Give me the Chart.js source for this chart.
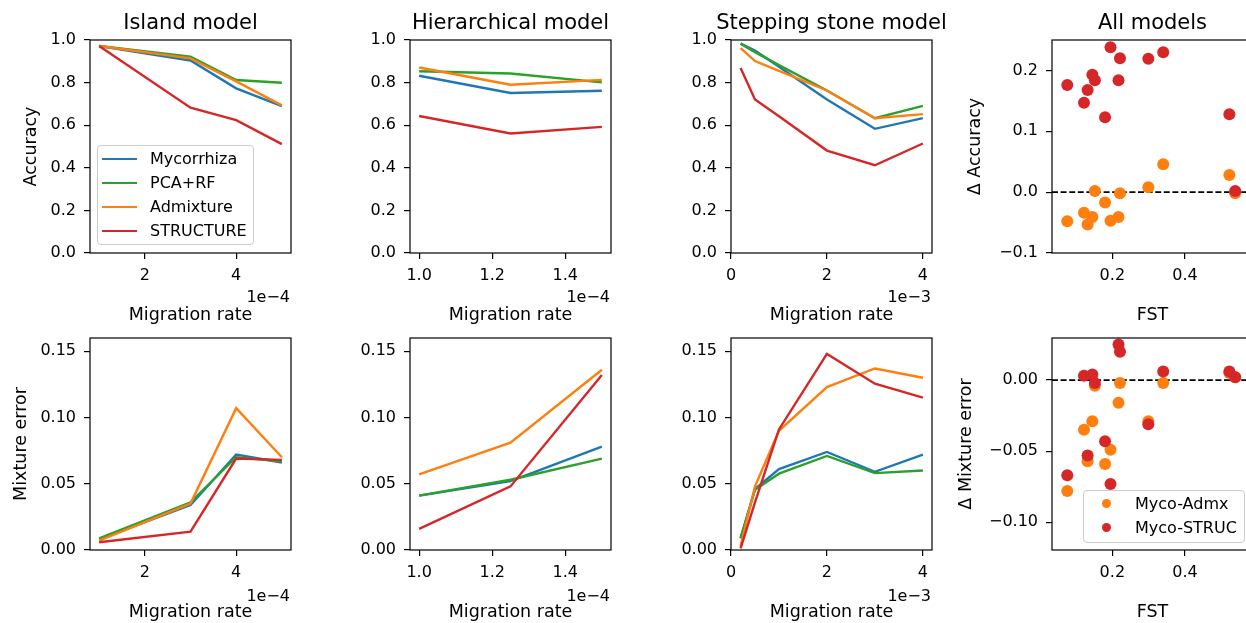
<!DOCTYPE html>
<html>
<head>
<meta charset="utf-8">
<script src="https://cdn.jsdelivr.net/npm/chart.js@4.4.0/dist/chart.umd.min.js"></script>
<style>
  html, body { margin: 0; padding: 0; background: #fff; overflow: hidden; }
  body { width: 1246px; height: 623px; position: relative; font-family: 'DejaVu Sans', sans-serif; color: #000; }
  canvas { position: absolute; }
  .offset { position: absolute; width: 60px; text-align: right; font-size: 16px; line-height: 16px; }
  .legend { position: absolute; box-sizing: border-box; border: 1px solid #cccccc; border-radius: 4px;
            background: rgba(255, 255, 255, 0.8); font-size: 16px; }
  .legend .row { position: absolute; left: 0; height: 20px; line-height: 20px; white-space: nowrap; }
  .legend .mark { position: absolute; }
  .legend .label { position: absolute; top: 0; }
</style>
</head>
<body>
<script>
// ---------------- data ----------------
const seriesNames = ['Mycorrhiza', 'PCA+RF', 'Admixture', 'STRUCTURE'];
const seriesColors = ['#1f77b4', '#2ca02c', '#ff7f0e', '#d62728'];

const islandRates = [1, 3, 4, 5];              // x 1e-4
const hierRates = [1.0, 1.25, 1.5];            // x 1e-4
const steppingRates = [0.2, 0.5, 1, 2, 3, 4];  // x 1e-3

// rows follow seriesNames
const islandAccuracy = [
    [0.972, 0.904, 0.773, 0.690],
    [0.972, 0.922, 0.812, 0.799],
    [0.972, 0.914, 0.806, 0.693],
    [0.972, 0.682, 0.624, 0.511]
];
const hierAccuracy = [
    [0.832, 0.751, 0.762],
    [0.853, 0.843, 0.801],
    [0.871, 0.790, 0.813],
    [0.643, 0.561, 0.592]
];
const steppingAccuracy = [
    [0.983, 0.951, 0.874, 0.721, 0.583, 0.633],
    [0.983, 0.943, 0.882, 0.763, 0.633, 0.691],
    [0.962, 0.901, 0.855, 0.763, 0.633, 0.652],
    [0.868, 0.721, 0.642, 0.481, 0.412, 0.514]
];
const islandMixError = [
    [0.008, 0.034, 0.072, 0.066],
    [0.0088, 0.036, 0.070, 0.067],
    [0.007, 0.035, 0.107, 0.070],
    [0.0058, 0.0139, 0.069, 0.068]
];
const hierMixError = [
    [0.041, 0.052, 0.078],
    [0.041, 0.053, 0.069],
    [0.057, 0.081, 0.136],
    [0.016, 0.048, 0.132]
];
const steppingMixError = [
    [0.009, 0.046, 0.061, 0.074, 0.059, 0.072],
    [0.0088, 0.0455, 0.0576, 0.071, 0.058, 0.060],
    [0.003, 0.048, 0.090, 0.123, 0.137, 0.130],
    [0.0013, 0.036, 0.091, 0.148, 0.1255, 0.115]
];

// All models: differences against FST
const fst = [0.076, 0.122, 0.132, 0.145, 0.152, 0.180, 0.195, 0.217, 0.221, 0.299, 0.340, 0.522, 0.538];
const deltaAccAdmx = [-0.048, -0.034, -0.053, -0.041, 0.002, -0.017, -0.047, -0.041, -0.002, 0.008, 0.046, 0.028, -0.002];
const deltaAccStruc = [0.176, 0.147, 0.168, 0.193, 0.184, 0.123, 0.238, 0.184, 0.220, 0.219, 0.230, 0.128, 0.002];
const deltaMixAdmx = [-0.078, -0.035, -0.057, -0.029, -0.004, -0.059, -0.049, -0.016, -0.002, -0.029, -0.002, 0.005, 0.002];
const deltaMixStruc = [-0.067, 0.003, -0.053, 0.004, -0.002, -0.043, -0.073, 0.025, 0.020, -0.031, 0.006, 0.006, 0.002];
const scatterNames = ['Myco-Admx', 'Myco-STRUC'];
const scatterColors = ['#ff7f0e', '#d62728'];

// tick labels
const islandTicks = [2, 4];
const hierTicks = [1.0, 1.2, 1.4];
const steppingTicks = [0, 2, 4];
const fstTicks = [0.2, 0.4];
const accuracyTicks = [0, 0.2, 0.4, 0.6, 0.8, 1.0];
const mixErrorTicks = [0, 0.05, 0.10, 0.15];
const deltaAccTicks = [-0.1, 0, 0.1, 0.2];
const deltaMixTicks = [-0.10, -0.05, 0];

// ---------------- layout ----------------
Chart.defaults.font.family = "'DejaVu Sans', sans-serif";
Chart.defaults.color = '#000';

const boxLeft = [90, 410, 731, 1052];
const boxW = 201;
const rows = [
    { canvasTop: 0, height: 330, areaTop: 40, areaBottom: 253 },
    { canvasTop: 300, height: 323, areaTop: 38, areaBottom: 250 }
];

function fmt(v, d) {
    return v.toFixed(d).replace('-', '\u2212');
}

// box around the plot + optional dashed zero line; title allowed wider than the box
const framePlugin = {
    id: 'frame',
    afterLayout(chart) {
        const t = chart.titleBlock;
        if (!t) return;
        const c = (chart.chartArea.left + chart.chartArea.right) / 2;
        t.left = c - 160;
        t.right = c + 160;
        t.width = 320;
    },
    beforeDatasetsDraw(chart, args, opts) {
        if (!opts.zeroLine) return;
        const { ctx, chartArea } = chart;
        const y = chart.scales.y.getPixelForValue(0);
        ctx.save();
        ctx.strokeStyle = '#000';
        ctx.lineWidth = 1.6;
        ctx.setLineDash([6, 2.6]);
        ctx.beginPath();
        ctx.moveTo(chartArea.left, y);
        ctx.lineTo(chartArea.right, y);
        ctx.stroke();
        ctx.restore();
    },
    afterDraw(chart) {
        const { ctx, chartArea: a } = chart;
        ctx.save();
        ctx.strokeStyle = '#000';
        ctx.lineWidth = 1.2;
        ctx.strokeRect(a.left, a.top, a.right - a.left, a.bottom - a.top);
        ctx.restore();
    }
};

function lineSets(xs, table) {
    return table.map((vals, i) => ({
        label: seriesNames[i],
        data: xs.map((x, j) => ({ x: x, y: vals[j] })),
        showLine: true,
        borderColor: seriesColors[i],
        backgroundColor: seriesColors[i],
        borderWidth: 2.4,
        pointRadius: 0,
        tension: 0,
        order: table.length - 1 - i
    }));
}

function scatterSets(ys) {
    return ys.map((vals, i) => ({
        label: scatterNames[i],
        data: fst.map((x, j) => ({ x: x, y: vals[j] })),
        backgroundColor: scatterColors[i],
        borderWidth: 0,
        pointRadius: 6,
        order: ys.length - 1 - i
    }));
}

function panel(col, rowIdx, cfg) {
    const row = rows[rowIdx];
    const yW = col === 3 ? 97 : 90;
    const padRight = yW;
    const canvas = document.createElement('canvas');
    const left = boxLeft[col] - yW;
    canvas.width = yW + boxW + padRight;
    canvas.height = row.height;
    canvas.style.left = left + 'px';
    canvas.style.top = row.canvasTop + 'px';
    document.body.appendChild(canvas);

    const tickGrid = { drawOnChartArea: false, drawTicks: true, tickLength: 6, color: '#000', lineWidth: 1.2 };

    new Chart(canvas, {
        type: 'scatter',
        data: { datasets: cfg.datasets },
        options: {
            responsive: false,
            animation: false,
            events: [],
            layout: { padding: { top: cfg.title ? 0 : row.areaTop, right: padRight, left: 0, bottom: 0 } },
            plugins: {
                legend: { display: false },
                tooltip: { enabled: false },
                title: {
                    display: !!cfg.title,
                    text: cfg.title || '',
                    fullSize: false,
                    color: '#000',
                    font: { size: 21, weight: 'normal', lineHeight: 1.2 },
                    padding: { top: 10.9, bottom: 3.9 }
                },
                frame: { zeroLine: !!cfg.zeroLine }
            },
            scales: {
                x: {
                    type: 'linear',
                    position: 'bottom',
                    min: cfg.xMin,
                    max: cfg.xMax,
                    afterBuildTicks: s => { s.ticks = cfg.xTicks.map(v => ({ value: v })); },
                    afterFit: s => { s.height = row.height - row.areaBottom; },
                    ticks: { callback: v => fmt(v, cfg.xDec), font: { size: 16 }, color: '#000', padding: 7, maxRotation: 0, autoSkip: false },
                    grid: tickGrid,
                    border: { display: false },
                    title: {
                        display: true, text: cfg.xLabel, color: '#000',
                        font: { size: 17.5, lineHeight: 1.2 },
                        padding: { top: 0, bottom: rowIdx === 0 ? 4 : 0.5 }
                    }
                },
                y: {
                    type: 'linear',
                    position: 'left',
                    min: cfg.yMin,
                    max: cfg.yMax,
                    afterBuildTicks: s => { s.ticks = cfg.yTicks.map(v => ({ value: v })); },
                    afterFit: s => { s.width = yW; },
                    ticks: { callback: v => fmt(v, cfg.yDec), font: { size: 16 }, color: '#000', padding: 8, autoSkip: false },
                    grid: tickGrid,
                    border: { display: false },
                    title: {
                        display: !!cfg.yLabel, text: cfg.yLabel || '', color: '#000',
                        font: { size: 17.5, lineHeight: 1.2 },
                        padding: { top: cfg.yLabelPad || 0, bottom: 0 }
                    }
                }
            }
        },
        plugins: [framePlugin]
    });

    if (cfg.offset) {
        const d = document.createElement('div');
        d.className = 'offset';
        d.textContent = cfg.offset;
        d.style.left = (boxLeft[col] + boxW - 1 - 60) + 'px';
        d.style.top = (rowIdx === 0 ? 288.5 : 588) + 'px';
        document.body.appendChild(d);
    }
}

// top row: accuracy
panel(0, 0, { title: 'Island model', datasets: lineSets(islandRates, islandAccuracy),
    xMin: 0.8, xMax: 5.2, xTicks: islandTicks, xDec: 0, xLabel: 'Migration rate', offset: '1e\u22124',
    yMin: 0, yMax: 1, yTicks: accuracyTicks, yDec: 1, yLabel: 'Accuracy', yLabelPad: 21 });
panel(1, 0, { title: 'Hierarchical model', datasets: lineSets(hierRates, hierAccuracy),
    xMin: 0.975, xMax: 1.525, xTicks: hierTicks, xDec: 1, xLabel: 'Migration rate', offset: '1e\u22124',
    yMin: 0, yMax: 1, yTicks: accuracyTicks, yDec: 1 });
panel(2, 0, { title: 'Stepping stone model', datasets: lineSets(steppingRates, steppingAccuracy),
    xMin: 0, xMax: 4.19, xTicks: steppingTicks, xDec: 0, xLabel: 'Migration rate', offset: '1e\u22123',
    yMin: 0, yMax: 1, yTicks: accuracyTicks, yDec: 1 });
panel(3, 0, { title: 'All models', datasets: scatterSets([deltaAccAdmx, deltaAccStruc]), zeroLine: true,
    xMin: 0.034, xMax: 0.587, xTicks: fstTicks, xDec: 1, xLabel: 'FST',
    yMin: -0.1, yMax: 0.25, yTicks: deltaAccTicks, yDec: 1, yLabel: '\u0394 Accuracy', yLabelPad: 9.5 });

// bottom row: mixture error
panel(0, 1, { datasets: lineSets(islandRates, islandMixError),
    xMin: 0.8, xMax: 5.2, xTicks: islandTicks, xDec: 0, xLabel: 'Migration rate', offset: '1e\u22124',
    yMin: 0, yMax: 0.16, yTicks: mixErrorTicks, yDec: 2, yLabel: 'Mixture error', yLabelPad: 10.5 });
panel(1, 1, { datasets: lineSets(hierRates, hierMixError),
    xMin: 0.975, xMax: 1.525, xTicks: hierTicks, xDec: 1, xLabel: 'Migration rate', offset: '1e\u22124',
    yMin: 0, yMax: 0.16, yTicks: mixErrorTicks, yDec: 2 });
panel(2, 1, { datasets: lineSets(steppingRates, steppingMixError),
    xMin: 0, xMax: 4.19, xTicks: steppingTicks, xDec: 0, xLabel: 'Migration rate', offset: '1e\u22123',
    yMin: 0, yMax: 0.16, yTicks: mixErrorTicks, yDec: 2 });
panel(3, 1, { datasets: scatterSets([deltaMixAdmx, deltaMixStruc]), zeroLine: true,
    xMin: 0.034, xMax: 0.587, xTicks: fstTicks, xDec: 1, xLabel: 'FST',
    yMin: -0.1195, yMax: 0.0296, yTicks: deltaMixTicks, yDec: 2, yLabel: '\u0394 Mixture error', yLabelPad: 0.5 });

// ---------------- legends ----------------
function legend(box, names, colors, kind) {
    const lg = document.createElement('div');
    lg.className = 'legend';
    lg.style.left = box.left + 'px';
    lg.style.top = box.top + 'px';
    lg.style.width = box.width + 'px';
    lg.style.height = box.height + 'px';
    names.forEach((name, i) => {
        const r = document.createElement('div');
        r.className = 'row';
        r.style.top = (box.first + i * 24 - 10) + 'px';
        const m = document.createElement('span');
        m.className = 'mark';
        if (kind === 'line') {
            m.style.left = '4px'; m.style.top = '9px';
            m.style.width = '35px'; m.style.height = '2.4px';
        } else {
            m.style.left = '17.5px'; m.style.top = '5.5px';
            m.style.width = '9px'; m.style.height = '9px';
            m.style.borderRadius = '50%';
        }
        m.style.background = colors[i];
        const t = document.createElement('span');
        t.className = 'label';
        t.style.left = box.textLeft + 'px';
        t.textContent = name;
        r.appendChild(m);
        r.appendChild(t);
        lg.appendChild(r);
    });
    document.body.appendChild(lg);
}

legend({ left: 97, top: 145, width: 157, height: 100, first: 12.5, textLeft: 52 }, seriesNames, seriesColors, 'line');
legend({ left: 1083, top: 490, width: 162, height: 53, first: 12.5, textLeft: 51 }, scatterNames, scatterColors, 'dot');
</script>
</body>
</html>
